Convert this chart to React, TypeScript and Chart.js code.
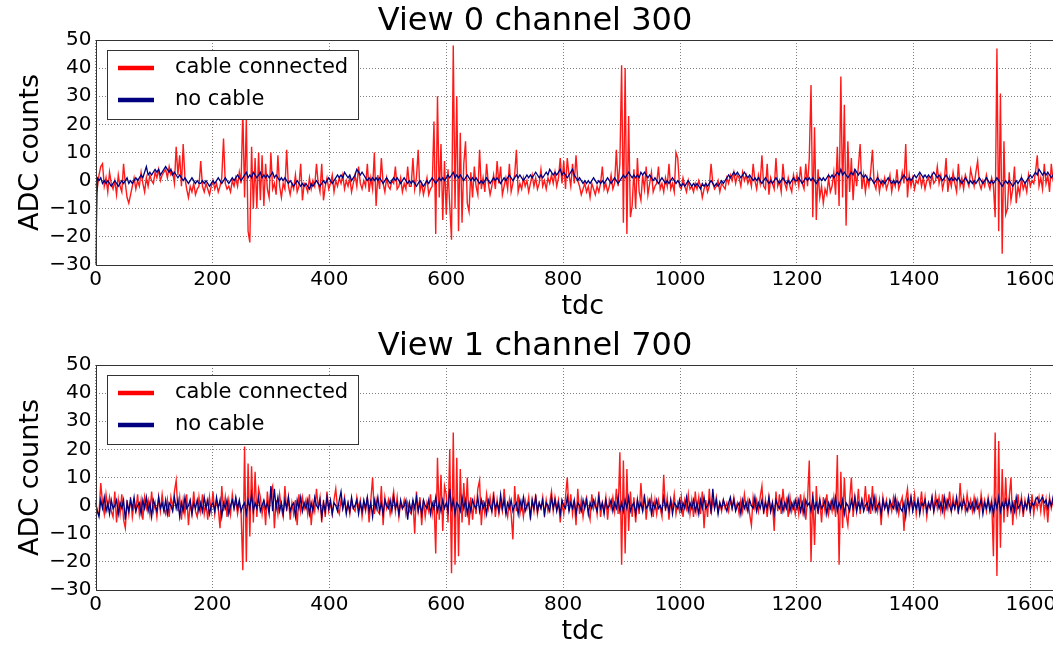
import React, { useEffect, useRef } from "react";
import { Chart, registerables } from "chart.js";

Chart.register(...registerables);

// ---- data (tdc sampled every STEP counts; each row below = 60 tdc) ----
const STEP = 3;
const X_MIN = 0;
const X_MAX = 1667;
const X_TICKS = [0, 200, 400, 600, 800, 1000, 1200, 1400, 1600];
const Y_MIN = -30;
const Y_MAX = 50;
const Y_TICKS = [-30, -20, -10, 0, 10, 20, 30, 40, 50];

const TITLES = ["View 0 channel 300", "View 1 channel 700"];
const SERIES_LABELS = ["cable connected", "no cable"];

// View 0 channel 300, cable connected
const view0Cable = [
  -1, -3, 2, 5, 6, -2, 1, -4, 3, -1, -3, 0, -5, 2, -2, -4, 6, -1, -6, -8,
  -5, -2, 1, -3, 0, -2, 3, -1, -4, 1, -2, 2, 0, -1, 3, 1, 4, 0, 2, 3,
  4, 1, 5, 2, 3, -1, 12, 2, 9, -2, 13, 1, -3, -6, -2, -4, -1, -5, -3, -2,
  7, -2, -4, -1, -3, -5, -2, 0, -3, -1, -4, -2, 1, 15, -1, -3, -2, -4, 0, -2,
  1, -2, 3, -1, 25, -6, 22, -18, -22, 12, -10, 8, -10, 10, -7, 9, -9, 6, -3, -6,
  10, -3, -1, -5, 9, -2, -6, -1, -3, 11, -2, -5, -1, -3, 2, -4, -2, 6, -7, -1,
  -2, -4, 1, -3, 0, -2, 6, -1, -4, 6, -7, -2, 1, -3, -1, 2, -4, 0, -2, 1,
  -1, 2, -3, 0, -2, 1, -4, -1, 2, -2, 5, -1, -3, 0, -2, 6, -4, 1, -3, 10,
  -9, 2, -3, 8, -1, -4, 1, -2, -3, 0, -1, 5, -3, -2, 1, -4, -1, -3, 5, -2,
  -2, 8, -3, 1, 11, -4, -1, -5, -2, 1, -5, -3, -2, 21, -19, 30, -6, 13, -14, 7,
  -12, 4, -9, -21, 48, -10, 30, -18, 17, -15, 6, 14, -8, -11, 3, -6, 5, -2, -5, 11,
  -3, 1, -4, 6, -1, -5, -2, 2, -3, 7, -1, 5, -5, -2, 1, -3, 6, -4, -1, 2,
  11, -4, -1, -3, 1, -2, 0, -4, -1, 2, -2, 1, -3, -1, 4, -2, 0, -3, 1, -1,
  2, -1, 3, -2, 1, 8, -1, 7, -3, 8, 2, -2, 6, -1, 9, 0, -2, -5, -3, -1,
  -4, -2, -6, -1, -3, -5, -2, -4, -1, 5, -3, -1, -4, -2, 2, -3, -1, 11, -2, 6,
  41, -15, 40, -19, 23, -13, -9, 4, -10, 8, -4, -7, 2, -3, 5, -5, -1, 3, -4, -2,
  -1, 5, -3, -1, -4, 1, -2, 6, -3, -1, -4, 10, 8, -2, -3, 1, -2, -4, 0, -3,
  -2, -4, -1, -3, 0, -2, -6, -3, -1, -4, -2, 6, -1, -3, -2, 0, -4, -1, -2, -3,
  1, -1, 2, 0, 3, -1, 2, 1, -2, 3, 0, 2, -1, 1, -2, 6, 0, -3, 2, -1,
  9, -2, -3, 6, -5, 1, -1, -3, 8, -2, 0, -4, 6, -1, -3, 1, -2, -4, 2, -1,
  2, -2, 5, -1, -3, 6, -2, 8, 34, -13, 19, -14, 4, -6, -2, -8, -3, -5, 1, -4,
  -2, 3, -5, 12, -9, 37, -6, 27, -16, 14, -4, 8, -7, 4, -2, 5, 13, -3, 2, -4,
  1, -2, 3, 11, -1, -3, 2, -4, 0, -2, 1, -3, -1, 2, -4, 0, -2, 4, -3, -1,
  3, -1, 13, -6, 2, -2, 1, -3, 0, -1, 2, -2, 1, -3, 0, 1, -2, 2, -1, 0,
  5, -1, 2, -3, 0, 8, -4, 1, -2, 3, -1, -4, 6, -2, 1, -3, 2, 0, -2, 4,
  1, -2, 3, 7, -1, -3, 0, -2, 2, -1, -3, 1, -2, -13, 47, -18, 31, -26, 14, -12,
  -10, 3, -7, -3, 5, -8, -2, -5, 1, -3, -1, -4, 2, -2, 0, -1, 3, 9, -2, 1,
  -3, 6, -1, 2, -4, 6, 0, -2, 3, -1, 4, -3, 1, -2, 2, 0,
];

// View 0 channel 300, no cable
const view0NoCable = [
  -35, 1, 0, 1, -1, 0, -1, 0, -1, -2, -1, 0, -1, -2, -1, 0, -1, 0, 1, -1,
  0, -1, 0, 1, 0, 1, 2, 1, 3, 5, 2, 3, 2, 3, 4, 3, 4, 2, 3, 4,
  5, 4, 3, 4, 2, 3, 2, 1, 2, 1, 0, 1, 0, -1, 0, 1, 0, -1, 0, -1,
  -1, 0, -1, 0, -1, -2, -1, 0, -1, 0, 1, 0, -1, 0, 1, 0, -1, 0, 1, 0,
  1, 2, 1, 0, 1, 2, 3, 1, 2, 1, 3, 2, 1, 2, 3, 1, 2, 1, 2, 1,
  2, 3, 1, 2, 1, 0, 1, 0, 1, 0, -1, 0, -1, -2, -1, 0, -1, -2, -1, -2,
  -1, -2, -3, -1, -2, -1, 0, -1, -2, -1, 0, -1, 0, 1, 0, -1, 0, 1, 2, 1,
  2, 1, 3, 2, 1, 2, 0, 1, 2, 4, 3, 2, 3, 2, 1, 0, 1, 0, 1, 0,
  1, 0, 1, 0, -1, 0, 1, 0, -1, 0, 1, 0, 1, 0, -1, 0, 1, 0, -1, 0,
  -1, 0, -1, -2, -1, 0, -1, -2, -1, 0, -1, 0, 1, 0, -1, 0, 1, 0, 1, 0,
  1, 2, 1, 2, 3, 1, 2, 1, 2, 1, 0, 1, 2, 1, 0, 1, 0, 1, 0, -1,
  0, -1, 0, 1, 0, -1, 0, 1, 0, 1, 0, -1, 0, 1, 0, 1, 2, 1, 0, 1,
  2, 1, 2, 1, 0, 1, 2, 1, 2, 1, 2, 3, 2, 1, 2, 1, 2, 3, 2, 4,
  3, 2, 3, 2, 3, 4, 2, 3, 2, 1, 2, 3, 4, 2, 1, 0, 1, 0, -1, 0,
  -1, 0, -1, 0, 1, 0, -1, 0, -1, 0, -1, 0, 1, 0, -1, 0, 1, 0, -1, 0,
  1, 2, 1, 2, 3, 2, 1, 2, 1, 2, 1, 3, 2, 3, 2, 1, 2, 1, 0, 1,
  0, -1, 0, 1, 0, -1, 0, -1, 0, 1, 0, -1, 0, -1, -2, -1, -2, -1, 0, -1,
  -2, -1, -2, -1, -2, -3, -1, -2, -1, -2, -1, 0, -1, -2, -1, -2, -1, 0, -1, 0,
  1, 2, 1, 2, 3, 2, 3, 2, 1, 2, 3, 2, 1, 2, 1, 0, 1, 0, 1, 0,
  -1, 0, 1, 0, -1, 0, -1, 0, 1, 0, -1, 0, 1, 0, -1, 0, -1, 0, 1, 0,
  0, 1, 0, -1, 0, 1, 0, 1, 0, 1, 0, -1, 0, 1, 0, 1, 0, 1, 2, 1,
  2, 1, 2, 3, 2, 4, 2, 3, 2, 1, 2, 3, 2, 4, 3, 2, 3, 2, 1, 2,
  1, 0, 1, 0, -1, 0, 1, 0, -1, 0, -1, 0, 1, 0, -1, 0, -1, 0, -1, 0,
  1, 2, 1, 0, 1, 0, 1, 2, 1, 2, 3, 2, 1, 2, 1, 2, 1, 2, 3, 2,
  1, 2, 1, 0, 1, 2, 1, 0, 1, 0, 1, 0, 1, 0, -1, 0, 1, 0, -1, 0,
  -1, 0, -1, 0, 1, 0, -1, 0, 1, 0, -1, 0, -1, 0, 1, 0, -1, -2, -1, 0,
  -1, 0, -1, -2, -1, 0, -1, 0, 1, 0, -1, 0, 1, 2, 1, 2, 3, 2, 4, 3,
  2, 3, 2, 3, 2, 1, 2, 3, 2, 1, 2, 3, 2, 1, 2, 1,
];

// View 1 channel 700, cable connected
const view1Cable = [
  2, -2, -3, 8, 1, -3, 4, -1, 3, -2, -4, 5, -6, 2, -3, 4, -5, -8, 2, -3,
  3, -4, 1, -2, 4, -3, 2, -5, 3, -1, 2, -3, 5, -2, 1, -4, 3, -2, 4, -1,
  -3, 2, -4, 3, -1, 5, 9, -2, 3, -5, 2, -3, 4, -7, 1, -3, 5, -2, -4, 3,
  -2, 4, -3, 1, -5, 3, -2, 5, -3, 2, -1, -8, 7, -2, 3, -4, 2, -3, 4, -1,
  2, -3, 1, -2, -23, 21, -20, 15, -11, 14, -6, 12, -4, 6, 3, -3, 2, -7, 5, -2,
  5, 7, -8, 2, -3, 4, -1, -4, 7, -2, 3, -5, 1, -3, 2, -7, 4, -2, 3, -1,
  2, -3, 4, -7, 1, -2, 6, -1, 3, -6, 2, -4, 5, -2, 1, -3, 2, 6, -1, -3,
  2, -1, 3, -2, 1, -3, 2, -1, -2, 3, -1, 2, -4, 1, -2, 3, -6, 2, 10, -3,
  2, -2, -3, 7, -7, 3, -1, 2, -3, 1, 5, -2, 3, -4, 1, -1, 2, -3, 1, -2,
  -3, 2, -10, 5, -2, 3, -7, 2, -4, 1, -2, 4, -3, 2, -17, 17, -5, 11, -9, 7,
  4, -6, 20, -24, 26, -21, 17, -18, 13, -6, 8, -4, 10, -7, 3, -5, 2, -3, 6, 9,
  -7, 2, -3, 4, -1, 3, -2, 5, -4, 2, -3, 1, -2, 6, -1, -4, 2, -3, -12, 7,
  -2, 4, -3, 1, -4, 2, -1, 3, -5, 2, -2, 4, -3, 1, -1, 3, -4, 2, -2, 1,
  5, -2, 3, -1, 2, -6, 1, -3, 3, 10, -2, 4, -3, 2, -7, 6, -3, 2, -4, 1,
  3, -2, -5, 4, -1, 2, -3, 5, -4, 1, -2, 3, -5, 2, -1, 3, -2, 6, -3, 19,
  -21, 16, -17, 13, -9, 5, -4, 3, -6, 2, -3, 8, -2, 4, -5, 2, -1, 3, -4, 2,
  -3, 2, -1, -4, 11, -2, 3, -5, 2, -1, 4, -3, 1, -2, 3, -4, 2, -1, 4, -3,
  2, -4, 5, -2, 3, -3, 5, -8, 2, -4, 6, -3, 2, -1, 3, -2, 1, -2, 2, -1,
  1, -2, 2, -1, 3, -1, 1, -3, 2, -2, 4, -1, 2, -3, -7, 3, -1, 2, -2, 3,
  7, -3, 2, -4, 3, -2, 1, -9, 5, -2, 4, -3, 6, -1, 2, -4, 3, -2, 1, -3,
  2, -3, 4, -2, 3, -5, 2, 16, -20, 5, -14, 7, -3, 2, -6, 3, -2, 4, -3, 1,
  -2, 3, -4, 18, -21, 12, -8, 10, -3, -7, 2, 10, -4, 3, -2, 6, -3, 2, -1, 7,
  -2, 4, -3, 7, -1, 3, -2, 2, -7, 3, -1, 2, -3, 1, -2, 3, -1, 2, -3, 1,
  3, -9, 2, 6, -2, 3, -1, 4, -3, 2, -1, 5, -2, 3, -4, 1, -1, 3, -2, 4,
  -1, 3, -2, 4, -3, 2, -1, 5, -2, 3, -1, 2, -3, 8, -1, 3, -2, 4, -1, 2,
  -2, 3, -1, 2, -3, 4, -1, 2, -2, 3, -1, 2, -18, 26, -25, 23, -15, 13, -6, 10,
  -4, 3, 10, -7, 2, -3, 4, -2, 3, -4, 2, -1, 3, -2, 4, -3, 2, -1, 3, -2,
  4, -3, 2, -6, 3, -1, 2, -3, 4, -2, 5, -3, 2, -1, 3, -2,
];

// View 1 channel 700, no cable
const view1NoCable = [
  1, -2, -4, 2, -1, 3, -2, 1, -3, 2, -1, 0, 2, -3, 1, -1, 2, -5, 1, -2,
  2, -1, 3, -2, 0, 1, -3, 2, -1, 3, -2, 1, -4, 2, 0, -2, 3, -1, 1, -2,
  2, -3, 1, 0, -2, 3, -1, 2, -4, 1, -2, 3, -1, 0, 2, -3, 1, -1, 2, -2,
  1, -2, 3, -1, 2, -3, 0, 1, -2, 3, -1, 2, -4, 1, -1, 2, -3, 0, 2, -1,
  3, -1, 2, -2, 0, 1, -3, 2, -1, 4, -2, 1, -1, 3, -2, 0, 2, -1, 1, -3,
  7, -2, 6, -1, 3, -2, 1, -3, 2, -1, 3, -2, 0, 1, -4, 2, -1, 3, -2, 1,
  -1, 2, -3, 1, -2, 3, 0, -1, 2, -4, 1, -2, 3, -1, 2, -3, 1, 0, -2, 2,
  5, -1, 2, -3, 1, -2, 3, -1, 0, 2, -3, 1, -2, 2, -1, 3, -2, 1, -4, 2,
  -1, 3, -2, 1, -3, 2, 0, -1, 2, -2, 3, -1, 1, -3, 2, -1, 0, 2, -5, 1,
  -2, 2, -1, 3, -2, 1, -3, 2, 0, -1, 2, -3, 1, -1, 3, -2, 1, -2, 2, -1,
  1, -2, 6, -1, 2, -3, 1, 0, -2, 3, -1, 2, -3, 1, -2, 2, 0, -1, 3, -2,
  2, -1, 1, -3, 2, 0, -2, 3, -1, 1, -2, 4, -1, 2, -3, 1, -1, 2, -2, 0,
  1, -3, 2, -1, 3, -2, 0, 1, -4, 2, -1, 3, -2, 1, -1, 2, -3, 1, 0, -2,
  3, -1, 2, -2, 1, -3, 2, 0, -1, 3, -2, 1, -1, 2, -3, 1, 0, -2, 2, -1,
  2, -3, 1, -1, 2, 0, -2, 3, -1, 1, -3, 2, -1, 0, 2, -2, 1, -1, 3, -2,
  1, -2, 2, -1, 3, -2, 0, 1, -3, 2, -1, 1, -2, 3, -1, 0, 2, -3, 1, -1,
  2, -1, 0, -2, 3, -1, 1, -2, 2, -3, 1, 0, -1, 2, -2, 1, -1, 3, -2, 1,
  -1, 2, -2, 1, -3, 2, -1, 3, -1, 0, 2, -2, 6, -1, 2, -3, 1, -1, 2, 0,
  -2, 1, 3, -1, 2, -2, 0, 1, -3, 2, -1, 1, -2, 2, 0, -1, 3, -2, 1, -1,
  2, -2, 1, -1, 3, -2, 1, -3, 2, 0, -1, 2, -2, 1, -1, 3, -2, 1, -1, 2,
  -1, 2, -2, 1, -3, 2, 0, 1, -2, 3, -1, 1, -2, 2, -1, 0, 2, -3, 1, -1,
  2, -1, 3, -2, 1, -1, 2, -3, 1, 0, -2, 2, -1, 3, -2, 1, -1, 2, -2, 0,
  1, -2, 2, -1, 3, -2, 0, 1, -3, 2, -1, 1, -2, 2, 0, -1, 3, -2, 1, -1,
  -2, 1, -4, 2, -1, 3, -2, 1, -1, 2, -3, 1, 0, 2, -2, 1, -1, 3, -2, 1,
  2, -1, 1, -2, 3, -1, 2, 0, -2, 1, -1, 3, -2, 1, -1, 2, 0, -2, 1, -1,
  1, -2, 2, -1, 0, 2, -3, 1, -1, 2, -2, 1, -3, 2, -1, 3, -2, 1, -1, 2,
  -1, 2, -2, 1, -2, 3, -1, 0, 2, -2, 1, -1, 3, -2, 1, 0, 2, 3, 1, 2,
  3, 1, 2, -1, 2, 0, 3, 1, -2, 2, -1, 3, -1, 1, 2, 0,
];

// ---- styling ----
const FONT = "'DejaVu Sans', 'Liberation Sans', sans-serif";
const RED = "rgba(255,0,0,0.9)";
const RED_SOLID = "#ff0000";
const NAVY = "#000080";

const fmt = (v: number | string) => {
  const n = Number(v);
  return n < 0 ? "\u2212" + Math.abs(n) : String(n);
};

const toPoints = (arr: number[]) => arr.map((y, i) => ({ x: i * STEP, y }));

const framePlugin = {
  id: "frame",
  afterDatasetsDraw(chart: any) {
    const { ctx, chartArea: a } = chart;
    ctx.save();
    ctx.strokeStyle = "#333";
    ctx.lineWidth = 1;
    const l = Math.round(a.left) + 0.5;
    const t = Math.round(a.top) + 0.5;
    const r = Math.round(a.right) + 0.5;
    const b = Math.round(a.bottom) + 0.5;
    ctx.strokeRect(l, t, r - l, b - t);
    ctx.restore();
  },
};

const legendPlugin = {
  id: "boxLegend",
  afterDatasetsDraw(chart: any) {
    const { ctx, chartArea: a } = chart;
    const x0 = Math.round(a.left + 11) + 0.5;
    const y0 = Math.round(a.top + 10) + 0.5;
    const w = 251;
    const h = 69;
    ctx.save();
    ctx.fillStyle = "#fff";
    ctx.fillRect(x0, y0, w, h);
    ctx.strokeStyle = "#333";
    ctx.lineWidth = 1;
    ctx.strokeRect(x0, y0, w, h);
    const colors = [RED_SOLID, NAVY];
    SERIES_LABELS.forEach((label, i) => {
      const cy = a.top + 28 + i * 32;
      ctx.strokeStyle = colors[i];
      ctx.lineWidth = 4.5;
      ctx.beginPath();
      ctx.moveTo(a.left + 22.5, cy);
      ctx.lineTo(a.left + 58.5, cy);
      ctx.stroke();
      ctx.fillStyle = "#000";
      ctx.font = `21px ${FONT}`;
      ctx.textBaseline = "middle";
      ctx.textAlign = "left";
      ctx.fillText(label, a.left + 79.5, cy);
    });
    ctx.restore();
  },
};

function makeConfig(title: string, cable: number[], noCable: number[]): any {
  return {
    type: "line",
    data: {
      datasets: [
        {
          label: SERIES_LABELS[0],
          data: toPoints(cable),
          borderColor: RED,
          borderWidth: 1.4,
          pointRadius: 0,
          tension: 0,
          order: 2,
        },
        {
          label: SERIES_LABELS[1],
          data: toPoints(noCable),
          borderColor: NAVY,
          borderWidth: 1.3,
          pointRadius: 0,
          tension: 0,
          order: 1,
        },
      ],
    },
    options: {
      responsive: false,
      animation: false,
      devicePixelRatio: 1,
      layout: { padding: { left: 0, right: 96, top: 0, bottom: 0 } },
      plugins: {
        legend: { display: false },
        tooltip: { enabled: false },
        title: {
          display: true,
          text: title,
          color: "#000",
          font: { family: FONT, size: 32, weight: "normal", lineHeight: 1.1 },
          padding: { top: 4.4, bottom: 0.4 },
        },
      },
      scales: {
        x: {
          type: "linear",
          min: X_MIN,
          max: X_MAX,
          afterBuildTicks: (s: any) => {
            s.ticks = X_TICKS.map((v) => ({ value: v }));
          },
          afterFit: (s: any) => {
            s.height = 60;
          },
          grid: { color: "rgba(0,0,0,0.5)", lineWidth: 1, drawTicks: false },
          border: { display: false, dash: [1, 2] },
          ticks: {
            color: "#000",
            font: { family: FONT, size: 20 },
            padding: 3,
            maxRotation: 0,
            autoSkip: false,
            callback: fmt,
          },
          title: {
            display: true,
            text: "tdc",
            color: "#000",
            font: { family: FONT, size: 27 },
            padding: { top: 0, bottom: 1.8 },
          },
        },
        y: {
          type: "linear",
          min: Y_MIN,
          max: Y_MAX,
          afterBuildTicks: (s: any) => {
            s.ticks = Y_TICKS.map((v) => ({ value: v }));
          },
          afterFit: (s: any) => {
            s.width = 95.5;
          },
          grid: { color: "rgba(0,0,0,0.5)", lineWidth: 1, drawTicks: false },
          border: { display: false, dash: [1, 2] },
          ticks: {
            color: "#000",
            font: { family: FONT, size: 20 },
            padding: 4,
            callback: fmt,
          },
          title: {
            display: true,
            text: "ADC counts",
            color: "#000",
            font: { family: FONT, size: 27 },
            padding: { top: 14.4, bottom: 0 },
          },
        },
      },
    },
    plugins: [framePlugin, legendPlugin],
  };
}

function Panel({ top, title, cable, noCable }: { top: number; title: string; cable: number[]; noCable: number[] }) {
  const ref = useRef<HTMLCanvasElement>(null);
  useEffect(() => {
    const chart = new Chart(ref.current as HTMLCanvasElement, makeConfig(title, cable, noCable));
    return () => chart.destroy();
  }, [title, cable, noCable]);
  return (
    <canvas
      ref={ref}
      width={1166}
      height={325}
      style={{ position: "absolute", left: 0, top, display: "block", width: 1166, height: 325 }}
    />
  );
}

export default function App() {
  return (
    <div
      style={{
        position: "absolute",
        left: 0,
        top: 0,
        width: 1053,
        height: 647,
        overflow: "hidden",
        background: "#fff",
      }}
    >
      <Panel top={0} title={TITLES[0]} cable={view0Cable} noCable={view0NoCable} />
      <Panel top={325} title={TITLES[1]} cable={view1Cable} noCable={view1NoCable} />
    </div>
  );
}
